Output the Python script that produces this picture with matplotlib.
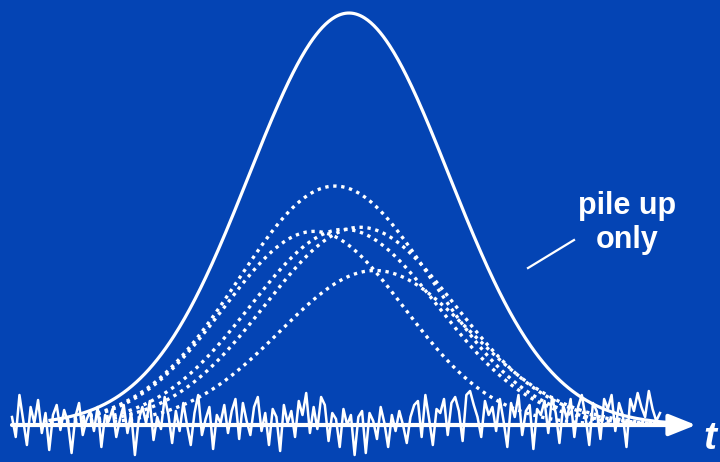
import numpy as np
import matplotlib
matplotlib.use("Agg")
import matplotlib.pyplot as plt

# pulse parameters: (centre, height, width) in time units / relative amplitude
main_pulse = (3.49, 1.00, 1.00)
pileup_centres = [3.35, 3.14, 3.44, 3.60, 3.75]
pileup_heights = [0.58, 0.47, 0.475, 0.48, 0.375]
pileup_widths = [0.97, 0.90, 0.94, 0.95, 0.95]

# baseline noise, in pixels above the axis line
noise_px = [8, -12, 30, 5, -20, 18, 2, 25, -8, 12, -25, 10, 20, -5, 15, 3, -28, 8, 22, -10,
            5, 14, -6, 18, -22, 10, 4, 16, -12, 6,
            20, -8, 12, -30, 5, 18, 2, 24, -15, 8, -4, 28, 10, -18, 14, -6, 22, 0, -20, 12,
            30, -10, 6, 18, -24, 10, 2, 20, -8, 14, 26, -14,
            22, 4, -10, 18, 28, -6, 12, -20, 16, 8, -26, 20, 2, 14, -12, 24, 10, 32, -8, 18,
            -4, 28, 20, -16, 12, 6, -22, 16, 0, 10, -30, 8, 14,
            -28, 12, 4, -14, 18, 2, -22, 10, -6, 14, 0, -18, 8, 20, 24, -12, 30, 6, -20, 16,
            12, 26, -10, 22, 28, 14, -16, 30, 34, 20, 8, -12, 24,
            10, 18, -6, 26, 4, -22, 22, 8, 30, -10, 14, 20, -24, 16, 10, 24, -8, 28, 12, -18,
            20, 6, 26, -12, 18, 30, 8, -20, 22, 14, -14, 26,
            16, 30, -6, 22, 10, -22, 26, 14, 32, 18, 8, 34, 16, 4, 12]
noise_start, noise_end = 0.12, 6.60

bg = '#0444b4'
fig = plt.figure(figsize=(7.2, 4.62), dpi=100, facecolor=bg)
ax = fig.add_axes([0, 0, 1, 1])
ax.set_facecolor(bg)
ax.set_xlim(0, 7.2)
ax.set_ylim(-0.0898, 1.0316)
ax.axis('off')

t = np.linspace(0.5, 6.8, 600)

def pulse(c, h, w):
    return h * np.exp(-0.5 * ((t - c) / w) ** 2)

# pile up pulses (dotted)
for c, h, w in zip(pileup_centres, pileup_heights, pileup_widths):
    ax.plot(t, pulse(c, h, w), color='white', lw=2.4, linestyle=(0, (1, 1.4)),
            dash_capstyle='butt')

# sum pulse (solid)
ax.plot(t, pulse(*main_pulse), color='white', lw=2.3)

# noise on the baseline
noise = np.array(noise_px) / 412.0
tn = np.linspace(noise_start, noise_end, len(noise))
ax.plot(tn, noise, color='white', lw=1.8)

# time axis arrow
ax.annotate('', xy=(6.96, 0), xytext=(0.12, 0),
            arrowprops=dict(arrowstyle='-|>,head_length=0.55,head_width=0.22',
                            lw=3, color='white', mutation_scale=30,
                            shrinkA=0, shrinkB=0))
ax.text(7.10, -0.035, 't', color='white', fontsize=28, fontweight='bold',
        fontstyle='italic', family='Liberation Sans', ha='center', va='center')

# label
ax.text(6.27, 0.49, 'pile up\nonly', color='white', fontsize=22, fontweight='bold',
        family='Liberation Sans', ha='center', va='center', linespacing=1.2)
ax.plot([5.28, 5.74], [0.381, 0.449], color='white', lw=1.6)

fig.savefig('out.png', dpi=100, facecolor=bg)
